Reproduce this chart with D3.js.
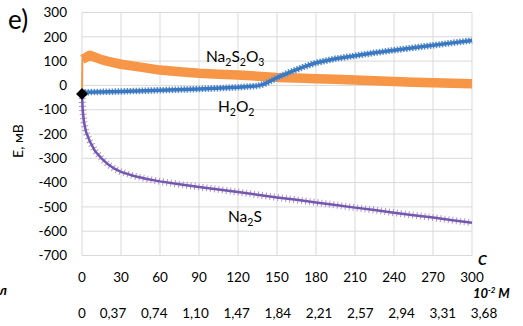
<!DOCTYPE html>
<html>
<head>
<meta charset="utf-8">
<script src="https://cdn.jsdelivr.net/npm/d3@7"></script>
<style>
  body { margin: 0; background: #fff; }
  text { font-family: Lato, "Open Sans", sans-serif; fill: #000; }
</style>
</head>
<body>
<svg id="chart" width="523" height="326"></svg>
<script>
const svg = d3.select("#chart");

// volume ticks (row 1) and concentration labels (row 2)
const xTicks = [0, 30, 60, 90, 120, 150, 180, 210, 240, 270, 300];
const concLabels = ["0", "0,37", "0,74", "1,10", "1,47", "1,84", "2,21", "2,57", "2,94", "3,31", "3,68"];
const yTicks = [300, 200, 100, 0, -100, -200, -300, -400, -500, -600, -700];

// Na2S2O3 (orange)
const thioX = [0, 0.3, 3, 6, 9, 15, 20, 30, 45, 60, 75, 90, 105, 120, 135, 150, 165, 180, 195, 210, 225, 240, 255, 270, 285, 300];
const thioY = [-35, 108, 115, 124, 118, 106, 99, 87, 75, 63, 56, 50, 46, 43, 38, 33, 30, 27, 25, 22, 19, 16, 13, 11, 9, 7];

// H2O2 (blue)
const peroxX = [0, 3, 30, 60, 90, 120, 135, 140, 145, 150, 160, 170, 180, 195, 210, 225, 240, 255, 270, 285, 300];
const peroxY = [-35, -28, -25, -20, -15, -8, -2, 5, 18, 32, 55, 75, 93, 110, 122, 134, 145, 155, 165, 175, 185];

// Na2S (purple)
const sulfX = [0, 0.5, 1.5, 3, 6, 10, 15, 20, 25, 30, 40, 50, 60, 75, 90, 105, 120, 135, 150, 165, 180, 195, 210, 225, 240, 255, 270, 285, 300];
const sulfY = [-35, -100, -150, -190, -230, -270, -300, -325, -343, -356, -373, -385, -395, -407, -418, -428, -439, -450, -461, -471, -482, -492, -503, -513, -524, -534, -544, -555, -565];

const startPoint = { x: 0, y: -35 };

const x = d3.scaleLinear().domain([0, 300]).range([82, 472]);
const y = d3.scaleLinear().domain([-700, 300]).range([255.5, 12.5]);
// second label row is spread a little wider than the first
const x2 = d3.scaleLinear().domain([1, concLabels.length - 1]).range([113, 484]);

// grid
svg.append("g")
  .selectAll("line.h")
  .data(yTicks)
  .join("line")
  .attr("x1", x(0)).attr("x2", x(300))
  .attr("y1", d => y(d)).attr("y2", d => y(d))
  .attr("stroke", "#d9d9d9").attr("stroke-width", 1);

svg.append("g")
  .selectAll("line.v")
  .data(xTicks)
  .join("line")
  .attr("x1", d => x(d)).attr("x2", d => x(d))
  .attr("y1", y(300)).attr("y2", y(-700))
  .attr("stroke", "#d9d9d9").attr("stroke-width", 1);

// y tick labels
svg.append("g")
  .selectAll("text")
  .data(yTicks)
  .join("text")
  .attr("x", 67)
  .attr("y", d => y(d))
  .attr("dy", "0.35em")
  .attr("text-anchor", "end")
  .attr("font-size", 13.5)
  .text(d => d);

// x tick labels
svg.append("g")
  .selectAll("text")
  .data(xTicks)
  .join("text")
  .attr("x", d => x(d))
  .attr("y", 277)
  .attr("dy", "0.35em")
  .attr("text-anchor", "middle")
  .attr("font-size", 13.5)
  .text(d => d);

svg.append("g")
  .selectAll("text")
  .data(concLabels)
  .join("text")
  .attr("x", (d, i) => i === 0 ? x(0) : x2(i))
  .attr("y", 313)
  .attr("dy", "0.35em")
  .attr("text-anchor", "middle")
  .attr("font-size", 13.5)
  .text(d => d);

const line = d3.line().x(d => x(d[0])).y(d => y(d[1]));
const zip = (xs, ys) => xs.map((v, i) => [v, ys[i]]);

const thio = zip(thioX, thioY);
const perox = zip(peroxX, peroxY);
const sulf = zip(sulfX, sulfY);

// Na2S2O3: thin connector + thick square-marker band
svg.append("path").datum(thio).attr("d", line)
  .attr("fill", "none").attr("stroke", "#f79646").attr("stroke-width", 2);
svg.append("path").datum(thio.slice(1)).attr("d", line)
  .attr("fill", "none").attr("stroke", "#f79646").attr("stroke-width", 9.5)
  .attr("stroke-linejoin", "round");

// H2O2: serrated band from dense diamond markers
svg.append("path").datum(perox).attr("d", line)
  .attr("fill", "none").attr("stroke", "#5b8fd0").attr("stroke-width", 6.5)
  .attr("stroke-dasharray", "1.5,1.5");
svg.append("path").datum(perox).attr("d", line)
  .attr("fill", "none").attr("stroke", "#3a78c2").attr("stroke-width", 3.5);

// Na2S: line with x markers
svg.append("path").datum(sulf).attr("d", line)
  .attr("fill", "none").attr("stroke", "#a994d6").attr("stroke-width", 7)
  .attr("stroke-dasharray", "1,3");
svg.append("path").datum(sulf).attr("d", line)
  .attr("fill", "none").attr("stroke", "#7558ad").attr("stroke-width", 2.5);

// common start point
svg.append("path")
  .attr("d", d3.symbol(d3.symbolDiamond2, 90)())
  .attr("transform", `translate(${x(startPoint.x)},${y(startPoint.y)})`)
  .attr("fill", "#000");

// series labels
function chemLabel(parts, px, py) {
  const t = svg.append("text").attr("x", px).attr("y", py).attr("font-size", 15.5);
  parts.forEach(p => {
    const s = t.append("tspan").text(p[0]);
    if (p[1]) s.attr("font-size", 10.5).attr("dy", 4);
    else s.attr("dy", p[2] || 0);
  });
}
chemLabel([["Na"], ["2", true], ["S", false, -4], ["2", true], ["O", false, -4], ["3", true]], 206, 62);
chemLabel([["H"], ["2", true], ["O", false, -4], ["2", true]], 218, 112);
chemLabel([["Na"], ["2", true], ["S", false, -4]], 228, 222);

// panel letter
svg.append("text").attr("x", 8).attr("y", 29).attr("font-size", 26).text("e)");

// axis titles
svg.append("text")
  .attr("transform", "translate(23,141) rotate(-90)")
  .attr("text-anchor", "middle")
  .attr("font-size", 14)
  .text("E, мВ");

svg.append("text").attr("x", 478).attr("y", 265)
  .attr("font-size", 14).attr("font-weight", "bold").attr("font-style", "italic")
  .text("C");

const unit = svg.append("text").attr("x", 473).attr("y", 298)
  .attr("font-size", 13).attr("font-weight", "bold").attr("font-style", "italic");
unit.append("tspan").text("10");
unit.append("tspan").attr("font-size", 8).attr("dy", -5).text("-2");
unit.append("tspan").attr("dy", 5).text(" M");

svg.append("text").attr("x", 7).attr("y", 295).attr("text-anchor", "end")
  .attr("font-size", 14).attr("font-weight", "bold").attr("font-style", "italic")
  .text("V, мл");
</script>
</body>
</html>
